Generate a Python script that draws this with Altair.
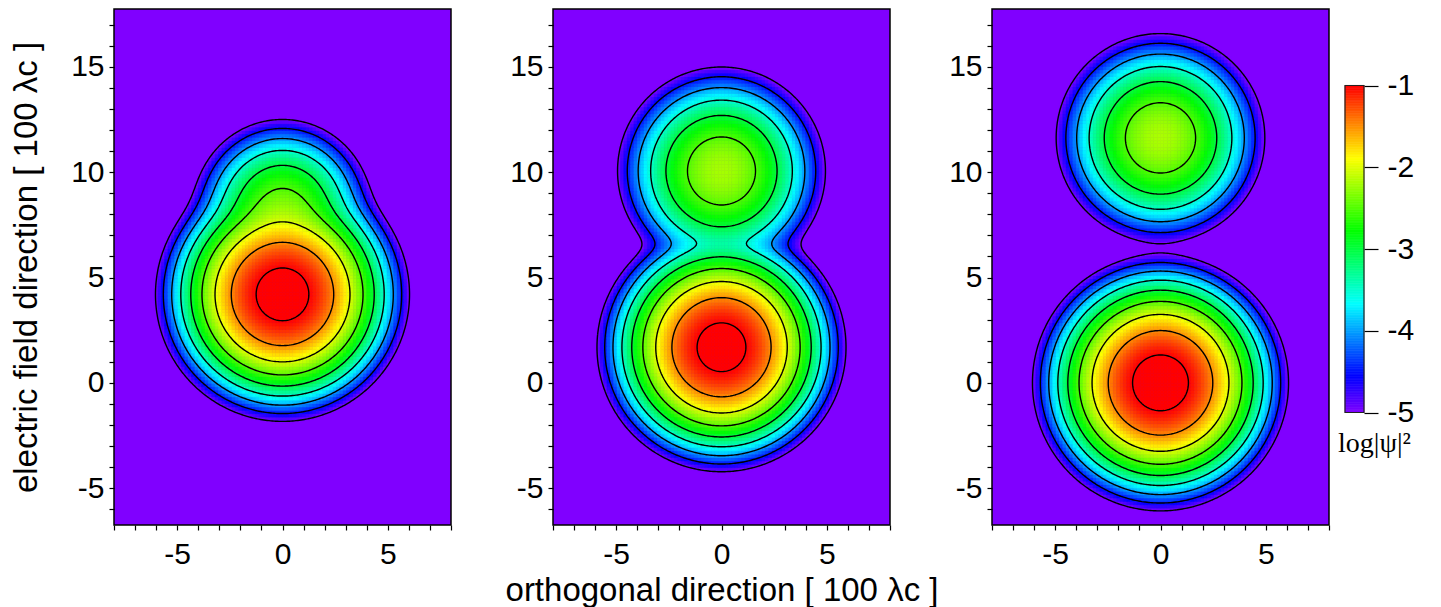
import numpy as np
import pandas as pd
import altair as alt
from collections import defaultdict

alt.data_transformers.disable_max_rows()

# ---- values ----------------------------------------------------------------
# each panel is the sum of two lobes on the field axis (orthogonal centre = 0)
p1_center_y = [4.2, 8.3]
p1_peak = [-0.82, -2.4]        # log10|psi|^2 at lobe centre
p1_spread = [8.7, 6.8]         # r^2 per decade
p2_center_y = [1.69, 10.06]
p2_peak = [-0.84, -2.2]
p2_spread = [8.4, 8.7]
p3_center_y = [0.0, 11.63]
p3_peak = [-0.8, -2.18]
p3_spread = [8.8, 8.7]

contour_levels = [-5.0, -4.5, -4.0, -3.5, -3.0, -2.5, -2.0, -1.5, -1.0]
colorbar_ticks = [-5, -4, -3, -2, -1]
x_ticks = list(range(-8, 9))
y_ticks = list(range(-6, 18))
x_domain = [-8, 8]
y_domain = [-6.75, 17.75]
color_stops = [-5.0, -4.5556, -3.6667, -2.7778, -1.8889, -1.0]
color_range = ["#8000ff", "#0000ff", "#00ffff", "#00ff00", "#ffff00", "#ff0000"]
cb_domain = [-6.376, -0.064]


def field(xx, yy, cys, peaks, spreads):
    tot = np.zeros_like(xx)
    for cy, pk, s in zip(cys, peaks, spreads):
        tot = tot + 10.0 ** (pk - (xx ** 2 + (yy - cy) ** 2) / s)
    return np.log10(tot)


def heat_df(params):
    nx, ny = 100, 153
    xe = np.linspace(x_domain[0], x_domain[1], nx + 1)
    ye = np.linspace(y_domain[0], y_domain[1], ny + 1)
    xc = (xe[:-1] + xe[1:]) / 2
    yc = (ye[:-1] + ye[1:]) / 2
    XX, YY = np.meshgrid(xc, yc)
    V = field(XX, YY, *params)
    X0, Y0 = np.meshgrid(xe[:-1], ye[:-1])
    X1, Y1 = np.meshgrid(xe[1:], ye[1:])
    m = V > -5.08
    return pd.DataFrame({
        "x": X0[m].round(3), "x2": X1[m].round(3),
        "y": Y0[m].round(3), "y2": Y1[m].round(3),
        "v": V[m].round(3),
    })


def trace(xs, ys, F, L):
    ny, nx = F.shape
    A = F >= L
    pts = {}
    hi, hj = np.nonzero(A[:, :-1] != A[:, 1:])
    for i, j in zip(hi, hj):
        f0, f1 = F[i, j], F[i, j + 1]
        t = (L - f0) / (f1 - f0)
        pts[("h", i, j)] = (xs[j] + t * (xs[j + 1] - xs[j]), ys[i])
    vi, vj = np.nonzero(A[:-1, :] != A[1:, :])
    for i, j in zip(vi, vj):
        f0, f1 = F[i, j], F[i + 1, j]
        t = (L - f0) / (f1 - f0)
        pts[("v", i, j)] = (xs[j], ys[i] + t * (ys[i + 1] - ys[i]))
    cells = set()
    for (k, i, j) in pts:
        if k == "h":
            for ci in (i - 1, i):
                if 0 <= ci < ny - 1:
                    cells.add((ci, j))
        else:
            for cj in (j - 1, j):
                if 0 <= cj < nx - 1:
                    cells.add((i, cj))
    adj = defaultdict(list)
    for (i, j) in cells:
        cand = [("h", i, j), ("v", i, j + 1), ("h", i + 1, j), ("v", i, j)]
        edges = [e for e in cand if e in pts]
        if len(edges) == 2:
            a, b = edges
            adj[a].append(b)
            adj[b].append(a)
        elif len(edges) == 4:
            bottom, right, top, left = edges
            centre = (F[i, j] + F[i, j + 1] + F[i + 1, j] + F[i + 1, j + 1]) / 4
            if (centre >= L) == A[i, j]:
                pairs = [(bottom, right), (top, left)]
            else:
                pairs = [(bottom, left), (top, right)]
            for a, b in pairs:
                adj[a].append(b)
                adj[b].append(a)
    visited = set()
    paths = []
    for start in list(adj.keys()):
        if start in visited:
            continue
        path = [start]
        visited.add(start)
        cur = start
        while True:
            nxt = [n for n in adj[cur] if n not in visited]
            if not nxt:
                break
            cur = nxt[0]
            visited.add(cur)
            path.append(cur)
        if len(path) > 2 and start in adj[cur]:
            path.append(start)
        paths.append([pts[e] for e in path])
    return paths


def contour_df(params, tag):
    nx, ny = 201, 307
    xs = np.linspace(x_domain[0], x_domain[1], nx)
    ys = np.linspace(y_domain[0], y_domain[1], ny)
    XX, YY = np.meshgrid(xs, ys)
    F = field(XX, YY, *params)
    rows = []
    for li, L in enumerate(contour_levels):
        for pi, path in enumerate(trace(xs, ys, F, L)):
            cid = f"{tag}_{li}_{pi}"
            for k, (px, py) in enumerate(path):
                rows.append((round(float(px), 4), round(float(py), 4), cid, k))
    return pd.DataFrame(rows, columns=["x", "y", "cid", "ord"])


color_scale = alt.Scale(domain=color_stops, range=color_range, clamp=True, interpolate="rgb")
x_scale = alt.Scale(domain=x_domain, nice=False, zero=False)
y_scale = alt.Scale(domain=y_domain, nice=False, zero=False)
label_expr = "datum.value % 5 === 0 ? '' + datum.value : ''"


def panel(params, tag, y_title=False, x_title=False):
    xkw = dict(values=x_ticks, labelExpr=label_expr, labelPadding=9, tickSize=5,
               labelFlush=False, labelOverlap=False)
    if x_title:
        xkw.update(title="orthogonal direction [ 100 λc ]", titlePadding=5)
    else:
        xkw.update(title="")
    ykw = dict(values=y_ticks, labelExpr=label_expr, labelPadding=5, tickSize=5,
               labelFlush=False, labelOverlap=False)
    if y_title:
        ykw.update(title="electric field direction [ 100 λc ]", titlePadding=27)
    else:
        ykw.update(title="")
    xa = alt.Axis(**xkw)
    ya = alt.Axis(**ykw)
    h = heat_df(params)
    c = contour_df(params, tag)
    heat = alt.Chart(h).mark_rect(strokeWidth=0.6).encode(
        x=alt.X("x:Q", scale=x_scale, axis=xa),
        x2="x2:Q",
        y=alt.Y("y:Q", scale=y_scale, axis=ya),
        y2="y2:Q",
        color=alt.Color("v:Q", scale=color_scale, legend=None),
        stroke=alt.Stroke("v:Q", scale=color_scale, legend=None),
    )
    cont = alt.Chart(c).mark_line(color="black", strokeWidth=1.4).encode(
        x=alt.X("x:Q", scale=x_scale, axis=xa),
        y=alt.Y("y:Q", scale=y_scale, axis=ya),
        detail="cid:N",
        order="ord:Q",
    )
    return alt.layer(heat, cont).properties(width=337, height=516)


p1 = panel((p1_center_y, p1_peak, p1_spread), "a", y_title=True)
p2 = panel((p2_center_y, p2_peak, p2_spread), "b", x_title=True)
p3 = panel((p3_center_y, p3_peak, p3_spread), "c")

# colour bar drawn beside the third panel
cb_lo = np.round(np.arange(-5.0, -1.0, 0.02), 3)
cb = pd.DataFrame({"y": cb_lo, "y2": np.round(cb_lo + 0.021, 3), "v": np.round(cb_lo + 0.01, 3)})
cb_scale = alt.Scale(domain=cb_domain, nice=False, zero=False)
cb_axis = alt.Axis(orient="right", offset=35, values=colorbar_ticks, labelExpr="'' + datum.value",
                   tickSize=14, labelPadding=9, domain=False, title="log|ψ|²",
                   titleFont="Liberation Serif", titleFontSize=28, titleFontWeight="normal",
                   titleAngle=0, titleX=10, titleY=442, titleAlign="center",
                   titleBaseline="alphabetic", labelFlush=False)
cbar = alt.Chart(cb).mark_rect(strokeWidth=0.6).encode(
    x=alt.value(353), x2=alt.value(372),
    y=alt.Y("y:Q", scale=cb_scale, axis=cb_axis), y2="y2:Q",
    color=alt.Color("v:Q", scale=color_scale, legend=None),
    stroke=alt.Stroke("v:Q", scale=color_scale, legend=None),
)
cb_frame = alt.Chart(pd.DataFrame({"y": [-5.0], "y2": [-1.0]})).mark_rect(
    filled=False, stroke="#222222", strokeWidth=1.2).encode(
    x=alt.value(353), x2=alt.value(372),
    y=alt.Y("y:Q", scale=cb_scale, axis=cb_axis), y2="y2:Q",
)
p3full = alt.layer(p3, alt.layer(cbar, cb_frame)).resolve_scale(y="independent")

chart = alt.hconcat(p1, p2, p3full, spacing=102, bounds="flush").properties(
    padding={"left": 9, "top": 8, "right": 0, "bottom": 0}
).configure_view(
    stroke="black", strokeWidth=1.5, fill="#8000ff"
).configure_axis(
    labelFont="Liberation Sans", labelFontSize=30, labelColor="black",
    titleFont="Liberation Sans", titleFontSize=33, titleFontWeight="normal", titleColor="black",
    tickColor="black", tickWidth=1.2, domain=False, grid=False,
)

chart.save("out.html", embed_options={"renderer": "svg", "actions": False})
